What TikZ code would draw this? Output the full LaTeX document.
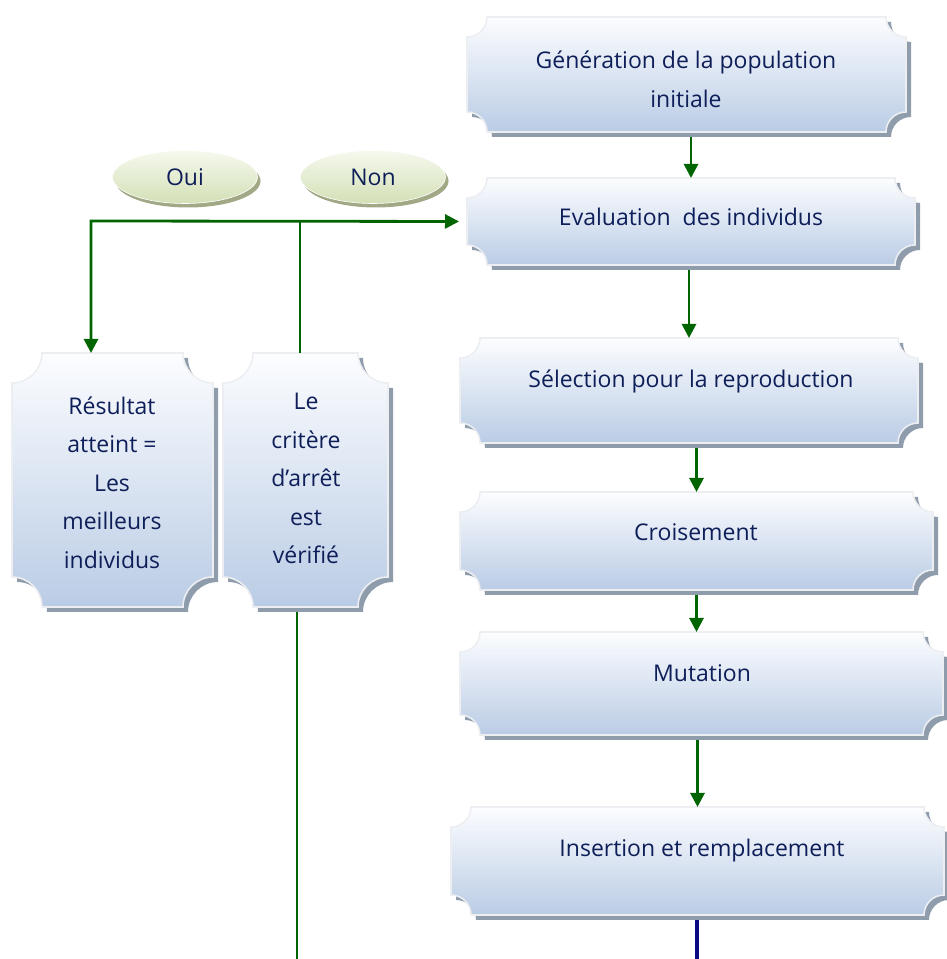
\documentclass[tikz,border=0pt]{standalone}
\usepackage{fontspec}
\setmainfont{Open Sans}
\usetikzlibrary{arrows.meta,shapes.geometric,shadows,calc}

\definecolor{inkblue}{RGB}{14,30,88}
\definecolor{flowgreen}{RGB}{0,100,0}
\definecolor{flownavy}{RGB}{10,10,130}
\definecolor{plaquetop}{RGB}{252,253,255}
\definecolor{plaquemid}{RGB}{224,232,244}
\definecolor{plaquebot}{RGB}{186,204,229}
\definecolor{plaqueshadow}{RGB}{143,156,172}
\definecolor{plaqueedge}{RGB}{236,238,241}
\definecolor{ovaltop}{RGB}{246,249,238}
\definecolor{ovalbot}{RGB}{211,224,182}
\definecolor{ovalshadow}{RGB}{150,158,120}

\tikzset{
  label text/.style={font=\fontsize{23}{38.5}\selectfont, text=inkblue, align=center, inner sep=0pt},
  plaque fill/.style={top color=plaquetop, middle color=plaquemid, bottom color=plaquebot, draw=plaqueedge, line width=1.6pt},
  plaque shade/.style={fill=plaqueshadow},
  frame/.style={inner sep=0pt, outer sep=0pt},
  flow/.style={draw=flowgreen, line width=2.8pt},
  tip/.style={-{Triangle[width=14pt,length=14pt]}},
  oval/.style={ellipse, minimum width=145pt, minimum height=53pt, draw=white, line width=0.6pt,
    top color=ovaltop, bottom color=ovalbot, text=inkblue, font=\fontsize{23}{26}\selectfont,
    drop shadow={shadow xshift=3pt, shadow yshift=-4pt, fill=ovalshadow, opacity=0.9}}
}

% plaque outline with concave corners: x1, ybottom, x2, ytop, radius
\newcommand\plaqueoutline[5]{({#1+#5},#4) -- ({#3-#5},#4) arc[start angle=180,end angle=270,radius=#5pt]
  -- (#3,{#2+#5}) arc[start angle=90,end angle=180,radius=#5pt]
  -- ({#1+#5},#2) arc[start angle=0,end angle=90,radius=#5pt]
  -- (#1,{#4-#5}) arc[start angle=270,end angle=360,radius=#5pt] -- cycle}

% name, x1, ybottom, x2, ytop, radius
\newcommand\plaque[6]{%
  \fill[plaque shade, shift={(5pt,-5pt)}] \plaqueoutline{#2}{#3}{#4}{#5}{#6};
  \path[plaque fill] \plaqueoutline{#2}{#3}{#4}{#5}{#6};
  \node[frame, minimum width={(#4-#2)*1pt}, minimum height={(#5-#3)*1pt}] (#1) at ({(#2+#4)/2},{(#3+#5)/2}) {};
}

\begin{document}
\begin{tikzpicture}[x=1pt,y=1pt]
\useasboundingbox (0,0) rectangle (947,959);

% process boxes
\plaque{gen}{467}{827}{906}{942}{20}
\plaque{eval}{467}{694}{915}{781}{20}
\plaque{sel}{460}{516}{918}{621}{20}
\plaque{crois}{460}{369}{933}{467}{20}
\plaque{mut}{460}{224}{943}{327}{20}
\plaque{ins}{451}{44}{944}{152}{20}
\plaque{res}{12}{352}{213}{606}{30}
\plaque{crit}{223}{352}{388}{606}{30}

\node[label text] (genT) at (686,879.5) {Génération de la population\\initiale};
\node[label text] (evalT) at (691,742) {Evaluation~ des individus};
\node[label text] (selT) at (691,578) {Sélection pour la reproduction};
\node[label text] (croisT) at (696,427) {Croisement};
\node[label text] (mutT) at (702,286) {Mutation};
\node[label text] (insT) at (702,108) {Insertion et remplacement};
\node[label text] (resT) at (112,476.5) {Résultat\\atteint =\\Les\\meilleurs\\individus};
\node[label text] (critT) at (306,480.5) {Le\\critère\\d’arrêt\\est\\vérifié};

% decision labels
\node[oval] (oui) at (185,782) {Oui};
\node[oval] (non) at (373,782) {Non};

% main chain
\draw[flow, tip, shorten <=5pt] (eval.north |- gen.south) -- (eval.north);
\draw[flow, tip, shorten <=5pt] (sel.north |- eval.south) -- (sel.north);
\draw[flow, tip, shorten <=5pt] (crois.north |- sel.south) -- (crois.north);
\draw[flow, tip, shorten <=5pt] (crois.south) -- (crois.south |- mut.north);
\draw[flow, tip, shorten <=5pt] (ins.north |- mut.south) -- (ins.north);

% stopping test branches
\coordinate (split) at (300,738);
\coordinate (yes) at (91,738);
\draw[flow] (crit.north -| split) -- (split);
\draw[flow, {Triangle[width=14pt,length=14pt]}-{Triangle[width=14pt,length=14pt]}, shorten >=8pt]
  (yes |- res.north) -- (yes) -- (eval.west);

% loose ends leaving the page
\coordinate (critEnd) at (297,0);
\coordinate (insEnd) at (697,0);
\draw[flow, shorten <=5pt] (crit.south -| critEnd) -- (critEnd);
\draw[draw=flownavy, line width=3.4pt, shorten <=5pt] (ins.south -| insEnd) -- (insEnd);
\end{tikzpicture}
\end{document}
